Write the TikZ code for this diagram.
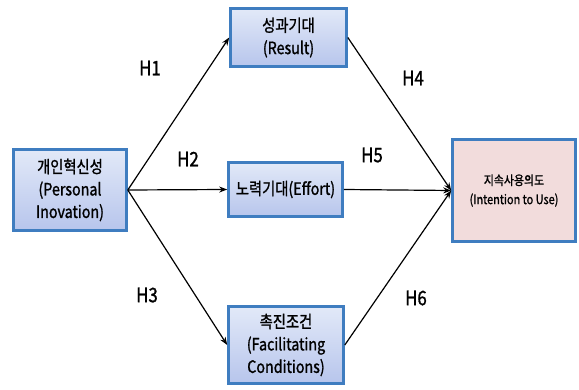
\documentclass[tikz,border=0pt]{standalone}
\usepackage{fontspec}
\setmainfont{Noto Sans CJK KR}[FakeStretch=0.84, FakeBold=1.2]
\usetikzlibrary{arrows.meta}
\definecolor{bordblue}{HTML}{3F7DC0}
\definecolor{boxtop}{HTML}{E2E9F8}
\definecolor{boxbot}{HTML}{B7C5EC}
\definecolor{pinkfill}{HTML}{F2DCDC}
\tikzset{
  bluebox/.style={draw=bordblue, line width=2.6pt, top color=boxtop, bottom color=boxbot,
    inner sep=0pt, align=center, font=\fontsize{17}{22.5}\selectfont},
  pinkbox/.style={draw=bordblue, line width=2.6pt, fill=pinkfill,
    inner sep=0pt, align=center, font=\fontsize{13}{19}\selectfont},
  arr/.style={-{Stealth[length=8pt,width=6pt]}, line width=1.2pt, black},
  hlab/.style={font=\fontsize{20}{20}\selectfont, inner sep=0pt}
}
\begin{document}
\begin{tikzpicture}[x=1pt,y=-1pt]
\useasboundingbox (0,0) rectangle (579,390);
\node[bluebox, minimum width=113pt, minimum height=81pt] (P) at (70,190) {개인혁신성\\(Personal\\Inovation)};
\node[bluebox, minimum width=116pt, minimum height=58pt] (R) at (288.5,37.5) {성과기대\\(Result)};
\node[bluebox, minimum width=114pt, minimum height=54pt] (E) at (285.5,189.5) {노력기대(Effort)};
\node[bluebox, minimum width=115pt, minimum height=77pt] (F) at (286,345) {촉진조건\\(Facilitating\\Conditions)};
\node[pinkbox, minimum width=123pt, minimum height=102pt] (I) at (514,190.5) {지속사용의도\\(Intention to Use)};
\draw[arr] (P.east) -- (R.west);
\draw[arr] (P.east) -- (E.west);
\draw[arr] (P.east) -- (F.west);
\draw[arr] (R.east) -- (I.west);
\draw[arr] (E.east) -- (I.west);
\draw[arr] (F.east) -- (I.west);
\node[hlab] (h1) at (150,68) {H1};
\node[hlab] (h2) at (188,159) {H2};
\node[hlab] (h3) at (147,295) {H3};
\node[hlab] (h4) at (413,78) {H4};
\node[hlab] (h5) at (372,155) {H5};
\node[hlab] (h6) at (416,298) {H6};
\end{tikzpicture}
\end{document}
